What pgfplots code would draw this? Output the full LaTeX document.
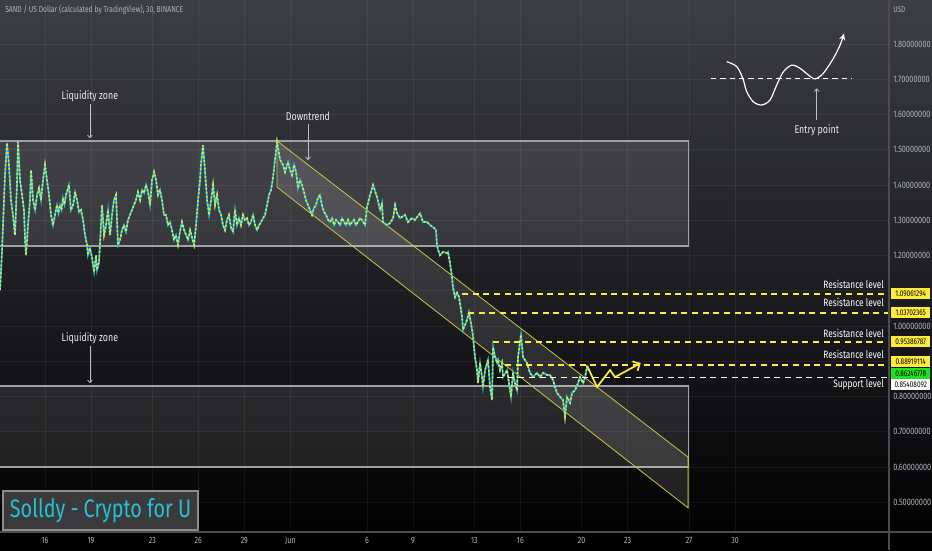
\documentclass[border=0pt]{standalone}
\usepackage{fontspec}
\setmainfont{Fira Sans}
\newfontfamily\tv[FakeStretch=0.78]{Fira Sans}
\usepackage{pgfplots}
\usepackage{pgfplotstable}
\pgfplotsset{compat=1.18}
\usetikzlibrary{arrows.meta}
\definecolor{bgtop}{RGB}{60,61,70}
\definecolor{tickc}{RGB}{178,181,190}
\definecolor{candc}{RGB}{38,198,218}
\definecolor{candy}{RGB}{226,230,80}
\definecolor{lvl}{RGB}{255,235,59}
\definecolor{tagg}{RGB}{30,225,30}
\definecolor{boxc}{RGB}{160,160,165}
\definecolor{chan}{RGB}{205,195,70}
\definecolor{wmc}{RGB}{35,195,215}
\definecolor{sepc}{RGB}{75,75,80}

\pgfplotstableread{
d p
13.07 1.102
13.20 1.216
13.39 1.428
13.52 1.519
13.65 1.457
13.78 1.357
13.91 1.315
14.04 1.258
14.17 1.400
14.24 1.522
14.37 1.414
14.50 1.372
14.63 1.329
14.70 1.244
14.76 1.201
14.89 1.286
15.02 1.357
15.09 1.442
15.22 1.357
15.35 1.329
15.48 1.372
15.61 1.391
15.74 1.357
15.87 1.414
16.00 1.457
16.13 1.414
16.26 1.372
16.39 1.315
16.52 1.286
16.65 1.315
16.78 1.343
16.88 1.320
16.98 1.343
17.08 1.330
17.17 1.363
17.27 1.345
17.37 1.372
17.56 1.400
17.69 1.329
17.83 1.343
17.96 1.380
18.09 1.357
18.22 1.323
18.35 1.329
18.48 1.301
18.61 1.258
18.74 1.230
18.80 1.201
18.93 1.221
19.07 1.193
19.20 1.153
19.33 1.201
19.39 1.159
19.52 1.181
19.65 1.286
19.72 1.343
19.85 1.258
19.98 1.286
20.11 1.329
20.24 1.258
20.37 1.315
20.50 1.357
20.63 1.372
20.76 1.230
20.89 1.244
21.02 1.272
21.15 1.286
21.28 1.267
21.41 1.301
21.54 1.315
21.67 1.329
21.80 1.343
21.93 1.357
22.06 1.380
22.20 1.357
22.33 1.386
22.46 1.377
22.59 1.400
22.72 1.380
22.85 1.343
22.98 1.414
23.11 1.437
23.24 1.414
23.37 1.372
23.50 1.386
23.63 1.357
23.76 1.315
23.89 1.315
24.02 1.286
24.15 1.295
24.28 1.272
24.41 1.244
24.54 1.258
24.67 1.230
24.80 1.267
24.93 1.295
25.07 1.272
25.20 1.258
25.33 1.244
25.46 1.272
25.59 1.250
25.72 1.230
25.85 1.286
25.98 1.357
26.11 1.414
26.17 1.457
26.30 1.513
26.43 1.442
26.57 1.357
26.70 1.315
26.83 1.357
26.96 1.400
27.09 1.343
27.22 1.372
27.35 1.329
27.48 1.315
27.61 1.286
27.74 1.272
27.87 1.301
28.00 1.315
28.13 1.278
28.26 1.267
28.39 1.329
28.52 1.286
28.65 1.306
28.78 1.286
28.91 1.315
29.04 1.301
29.17 1.306
29.30 1.286
29.43 1.295
29.57 1.315
29.70 1.286
29.83 1.272
29.96 1.286
30.09 1.295
30.22 1.306
30.35 1.315
30.48 1.343
30.61 1.372
30.74 1.386
30.87 1.420
31.00 1.471
31.13 1.522
31.33 1.471
31.52 1.457
31.65 1.437
31.85 1.465
31.98 1.442
32.11 1.428
32.24 1.457
32.37 1.437
32.50 1.391
32.63 1.414
32.76 1.400
32.89 1.380
33.02 1.357
33.15 1.343
33.28 1.329
33.41 1.315
33.54 1.335
33.67 1.343
33.80 1.363
33.93 1.372
34.06 1.343
34.20 1.323
34.33 1.315
34.46 1.301
34.59 1.295
34.72 1.306
34.85 1.286
34.98 1.301
35.11 1.295
35.24 1.286
35.37 1.306
35.50 1.295
35.63 1.286
35.76 1.301
35.89 1.286
36.02 1.295
36.15 1.301
36.28 1.286
36.41 1.295
36.54 1.306
36.67 1.301
36.87 1.286
37.00 1.338
37.20 1.372
37.39 1.400
37.65 1.366
37.85 1.329
37.98 1.349
38.04 1.295
38.30 1.286
38.50 1.292
38.70 1.306
38.83 1.343
38.96 1.320
39.15 1.306
39.48 1.315
39.67 1.295
39.93 1.306
40.13 1.301
40.46 1.320
40.65 1.295
40.91 1.295
41.11 1.286
41.30 1.281
41.50 1.272
41.56 1.230
41.63 1.216
41.76 1.201
41.96 1.210
42.22 1.207
42.28 1.210
42.41 1.179
42.54 1.139
42.61 1.108
42.74 1.082
42.87 1.094
43.00 1.082
43.20 1.025
43.26 0.989
43.52 1.017
43.65 1.040
43.85 0.989
43.91 0.969
44.04 0.912
44.17 0.875
44.24 0.838
44.37 0.895
44.50 0.855
44.56 0.827
44.70 0.875
44.89 0.904
45.02 0.827
45.15 0.790
45.22 0.940
45.35 0.912
45.48 0.895
45.54 0.904
45.67 0.875
45.80 0.895
45.87 0.855
46.13 0.875
46.26 0.838
46.39 0.799
46.52 0.867
46.65 0.838
46.78 0.818
46.85 0.912
47.04 0.975
47.17 0.912
47.43 0.895
47.63 0.867
47.83 0.855
48.09 0.867
48.28 0.855
48.48 0.867
48.74 0.861
48.93 0.861
49.13 0.847
49.26 0.827
49.39 0.810
49.59 0.799
49.78 0.790
49.91 0.742
50.04 0.799
50.24 0.782
50.37 0.810
50.57 0.818
50.76 0.838
50.89 0.855
51.09 0.838
51.22 0.855
51.35 0.884
51.48 0.875
}\price

\begin{document}
\begin{tikzpicture}
\useasboundingbox (0,0) rectangle (699pt,412.5pt);
\shade[top color=bgtop, bottom color=black] (0,0) rectangle (699pt,412.5pt);
\begin{axis}[
  at={(0pt,412.5pt)}, anchor=north west,
  scale only axis, width=666.75pt, height=399pt,
  xmin=13.065, xmax=71.04, ymin=0.4156, ymax=1.9248,
  clip mode=individual,
  axis line style={draw=none},
  tick style={draw=none},
  xtick={16,19,23,26,29,32,37,40,44,47,51,54,58,61},
  xticklabels={16,19,23,26,29,Jun,6,9,13,16,20,23,27,30},
  ytick={0.5,0.6,0.7,0.8,0.9,1.0,1.1,1.2,1.3,1.4,1.5,1.6,1.7,1.8},
  yticklabels={0.50000000,0.60000000,0.70000000,0.80000000,{},1.00000000,{},1.20000000,1.30000000,1.40000000,1.50000000,1.60000000,1.70000000,1.80000000},
  yticklabel pos=right,
  xticklabel style={font=\tv\fontsize{6.8}{7}\selectfont, text=tickc, anchor=north, inner sep=0pt, yshift=-4pt},
  yticklabel style={font=\tv\fontsize{7}{8}\selectfont, text=tickc, anchor=west, inner sep=0pt, xshift=3pt},
  grid=major, major grid style={white, opacity=0.06, line width=0.5pt},
]
% liquidity zones
\addplot[draw=boxc, line width=0.9pt, fill=white, fill opacity=0.1] coordinates {(12,1.227) (57.94,1.227) (57.94,1.525) (12,1.525)} -- cycle;
\addplot[draw=boxc, line width=0.9pt, fill=white, fill opacity=0.1] coordinates {(12,0.600) (57.94,0.600) (57.94,0.830) (12,0.830)} -- cycle;
% channel
\addplot[draw=chan, line width=0.6pt, fill=white, fill opacity=0.11] coordinates {(31.13,1.525) (57.94,0.628) (57.94,0.484) (31.13,1.394)} -- cycle;
% price
\addplot[candc, line width=1.2pt] table {\price};
\addplot[candy, line width=1.2pt, dash pattern=on 1.3pt off 1.7pt] table {\price};
% levels
\addplot[lvl, line width=1.2pt, dash pattern=on 4.5pt off 3.5pt] coordinates {(43.20,1.09061294) (71.04,1.09061294)};
\addplot[lvl, line width=1.2pt, dash pattern=on 4.5pt off 3.5pt] coordinates {(43.59,1.03702365) (71.04,1.03702365)};
\addplot[lvl, line width=1.2pt, dash pattern=on 4.5pt off 3.5pt] coordinates {(45.22,0.95386787) (71.04,0.95386787)};
\addplot[lvl, line width=1.2pt, dash pattern=on 4.5pt off 3.5pt] coordinates {(46.00,0.88919114) (71.04,0.88919114)};
\addplot[white, line width=1.2pt, dash pattern=on 4.5pt off 3.5pt] coordinates {(45.48,0.85408092) (71.04,0.85408092)};
% projected path
\addplot[lvl, line width=1.3pt, -{Straight Barb[length=4pt,width=8pt,line width=1.3pt]}] coordinates {(51.35,0.887) (52.00,0.827) (52.85,0.875) (53.17,0.855) (54.85,0.895)};
% sketch
\addplot[white, line width=0.9pt, dash pattern=on 4pt off 3pt] coordinates {(59.43,1.701) (68.63,1.701)};
\addplot[white, line width=0.9pt, smooth, -{Stealth[length=5pt,width=4.5pt,open]}] coordinates {(60.46,1.750) (61.11,1.736) (61.50,1.703) (61.76,1.665) (62.19,1.636) (62.74,1.627) (63.28,1.641) (63.72,1.684) (64.15,1.721) (64.70,1.740) (65.24,1.731) (65.78,1.712) (66.22,1.701) (66.76,1.717) (67.41,1.759) (67.85,1.797) (68.11,1.830)};
\draw[white!75!black, line width=0.6pt, -{To[length=2.5pt,width=4pt]}] (axis cs:66.33,1.584) -- (axis cs:66.33,1.674);
\node[font=\tv\fontsize{8.5}{9}\selectfont, text=white!92!black] at (axis cs:66.33,1.554) {Entry point};
% annotations
\node[font=\tv\fontsize{8.5}{9}\selectfont, text=white!92!black] at (axis cs:18.93,1.652) {Liquidity zone};
\draw[white!75!black, line width=0.6pt, -{To[length=2.5pt,width=4pt]}] (axis cs:18.93,1.630) -- (axis cs:18.93,1.533);
\node[font=\tv\fontsize{8.5}{9}\selectfont, text=white!92!black] at (axis cs:33.15,1.596) {Downtrend};
\draw[white!75!black, line width=0.6pt, -{To[length=2.5pt,width=4pt]}] (axis cs:33.15,1.573) -- (axis cs:33.15,1.471);
\node[font=\tv\fontsize{8.5}{9}\selectfont, text=white!92!black] at (axis cs:18.93,0.966) {Liquidity zone};
\draw[white!75!black, line width=0.6pt, -{To[length=2.5pt,width=4pt]}] (axis cs:18.93,0.943) -- (axis cs:18.93,0.838);
% level labels
\node[anchor=east, inner sep=0pt, font=\tv\fontsize{8}{9}\selectfont, text=white] at (axis cs:70.72,1.119) {Resistance level};
\node[anchor=east, inner sep=0pt, font=\tv\fontsize{8}{9}\selectfont, text=white] at (axis cs:70.72,1.066) {Resistance level};
\node[anchor=east, inner sep=0pt, font=\tv\fontsize{8}{9}\selectfont, text=white] at (axis cs:70.72,0.980) {Resistance level};
\node[anchor=east, inner sep=0pt, font=\tv\fontsize{8}{9}\selectfont, text=white] at (axis cs:70.72,0.918) {Resistance level};
\node[anchor=east, inner sep=0pt, font=\tv\fontsize{8}{9}\selectfont, text=white] at (axis cs:70.72,0.833) {Support level};
\end{axis}
% separators
\draw[sepc, line width=0.8pt] (0,13.5pt) -- (699pt,13.5pt);
\draw[sepc, line width=0.8pt] (666.75pt,0) -- (666.75pt,412.5pt);
% title and currency
\node[anchor=west, inner sep=0pt, font=\tv\fontsize{6.5}{7}\selectfont, text=tickc] at (3.75pt,405pt) {SAND / US Dollar (calculated by TradingView), 30, BINANCE};
\node[anchor=west, inner sep=0pt, font=\tv\fontsize{6.3}{7}\selectfont, text=tickc] at (669.75pt,405pt) {USD};
% price tags
\tikzset{tag/.style={anchor=west, inner sep=0pt, minimum width=29.25pt, minimum height=8.25pt, font=\tv\fontsize{6.2}{7}\selectfont, text=black}}
\node[tag, fill=lvl] at (668.25pt,192pt) {1.09061294};
\node[tag, fill=lvl] at (668.25pt,177.75pt) {1.03702365};
\node[tag, fill=lvl] at (668.25pt,156pt) {0.95386787};
\node[tag, fill=lvl] at (668.25pt,141pt) {0.88919114};
\node[tag, fill=tagg] at (668.25pt,132.4pt) {0.86246778};
\node[tag, fill=white] at (668.25pt,123.75pt) {0.85408092};
% watermark
\draw[draw=white!55!black, line width=0.9pt, fill={rgb,255:red,58;green,58;blue,60}] (2.25pt,15pt) rectangle (148.5pt,44.25pt);
\node[inner sep=0pt, font=\tv\fontsize{19}{20}\selectfont, text=wmc] at (75.4pt,29.6pt) {Solldy - Crypto for U};
\end{tikzpicture}
\end{document}
